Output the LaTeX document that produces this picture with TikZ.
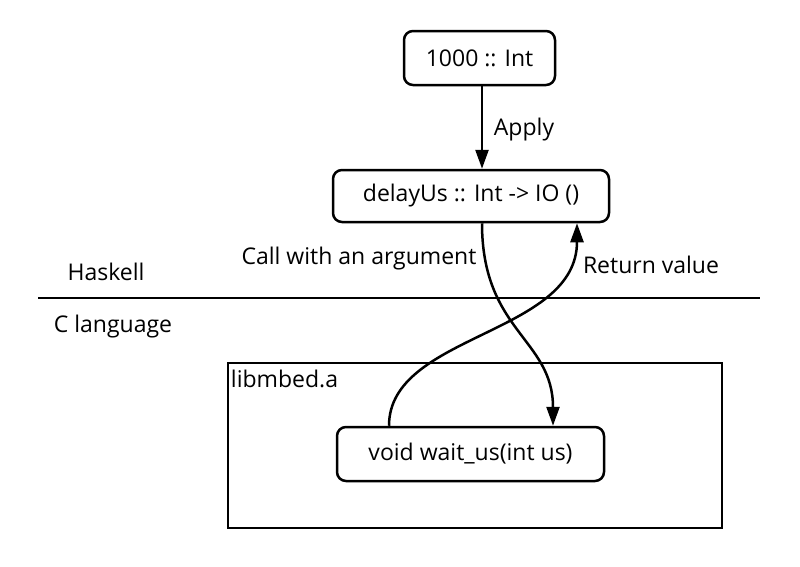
\documentclass[tikz,border=0pt]{standalone}
\usepackage{fontspec}
\setmainfont{Open Sans}
\usetikzlibrary{arrows.meta}
\definecolor{inkBlack}{RGB}{0, 0, 0}

\tikzset{
    funbox/.style={draw=inkBlack, line width=2.5pt, rounded corners=9pt, inner sep=0pt},
    flow/.style={draw=inkBlack, line width=2.5pt, -{Triangle[width=13pt,length=19pt]}},
    lbl/.style={text=inkBlack, inner sep=0pt}
}

\begin{document}
\begin{tikzpicture}[x=1pt, y=-1pt, font=\fontsize{23}{27}\selectfont]
\useasboundingbox (0,0) rectangle (800,566);
% Haskell side
\node[funbox, minimum width=151pt, minimum height=54pt] (lit) at (479.5,58) {1000 :: Int};
\node[funbox, minimum width=276pt, minimum height=52pt] (delay) at (471,196) {delayUs :: Int -> IO ()};
\draw[flow] (lit.south -| 482,0) -- (delay.north -| 482,0);
\node[lbl] (apply) at (524,130) {Apply};
\node[lbl] (hs) at (106,272) {Haskell};
\node[lbl] (call) at (359,259) {Call with an argument};
\node[lbl] (ret) at (651,265) {Return value};
% border between the languages
\coordinate (sepL) at (38,298);
\coordinate (sepR) at (760,298);
\draw[line width=2.5pt] (sepL) -- (sepR);
% C side
\node[lbl] (clang) at (113,327) {C language};
\node[draw=inkBlack, line width=2.5pt, minimum width=494pt, minimum height=165pt, inner sep=0pt] (lib) at (475,445.5) {};
\node[lbl, anchor=north west] (libname) at ([shift={(4pt,-8pt)}]lib.north west) {libmbed.a};
\node[funbox, minimum width=267pt, minimum height=54pt] (wait) at (470.5,454) {void wait\_us(int us)};
% call and return
\draw[flow] ([xshift=11pt]delay.south) .. controls +(0,108) and +(0,-87) .. ([xshift=82.5pt]wait.north);
\draw[flow] ([xshift=-81.5pt]wait.north) .. controls +(0,-92) and +(0,112) .. ([xshift=106pt]delay.south);
\end{tikzpicture}
\end{document}
